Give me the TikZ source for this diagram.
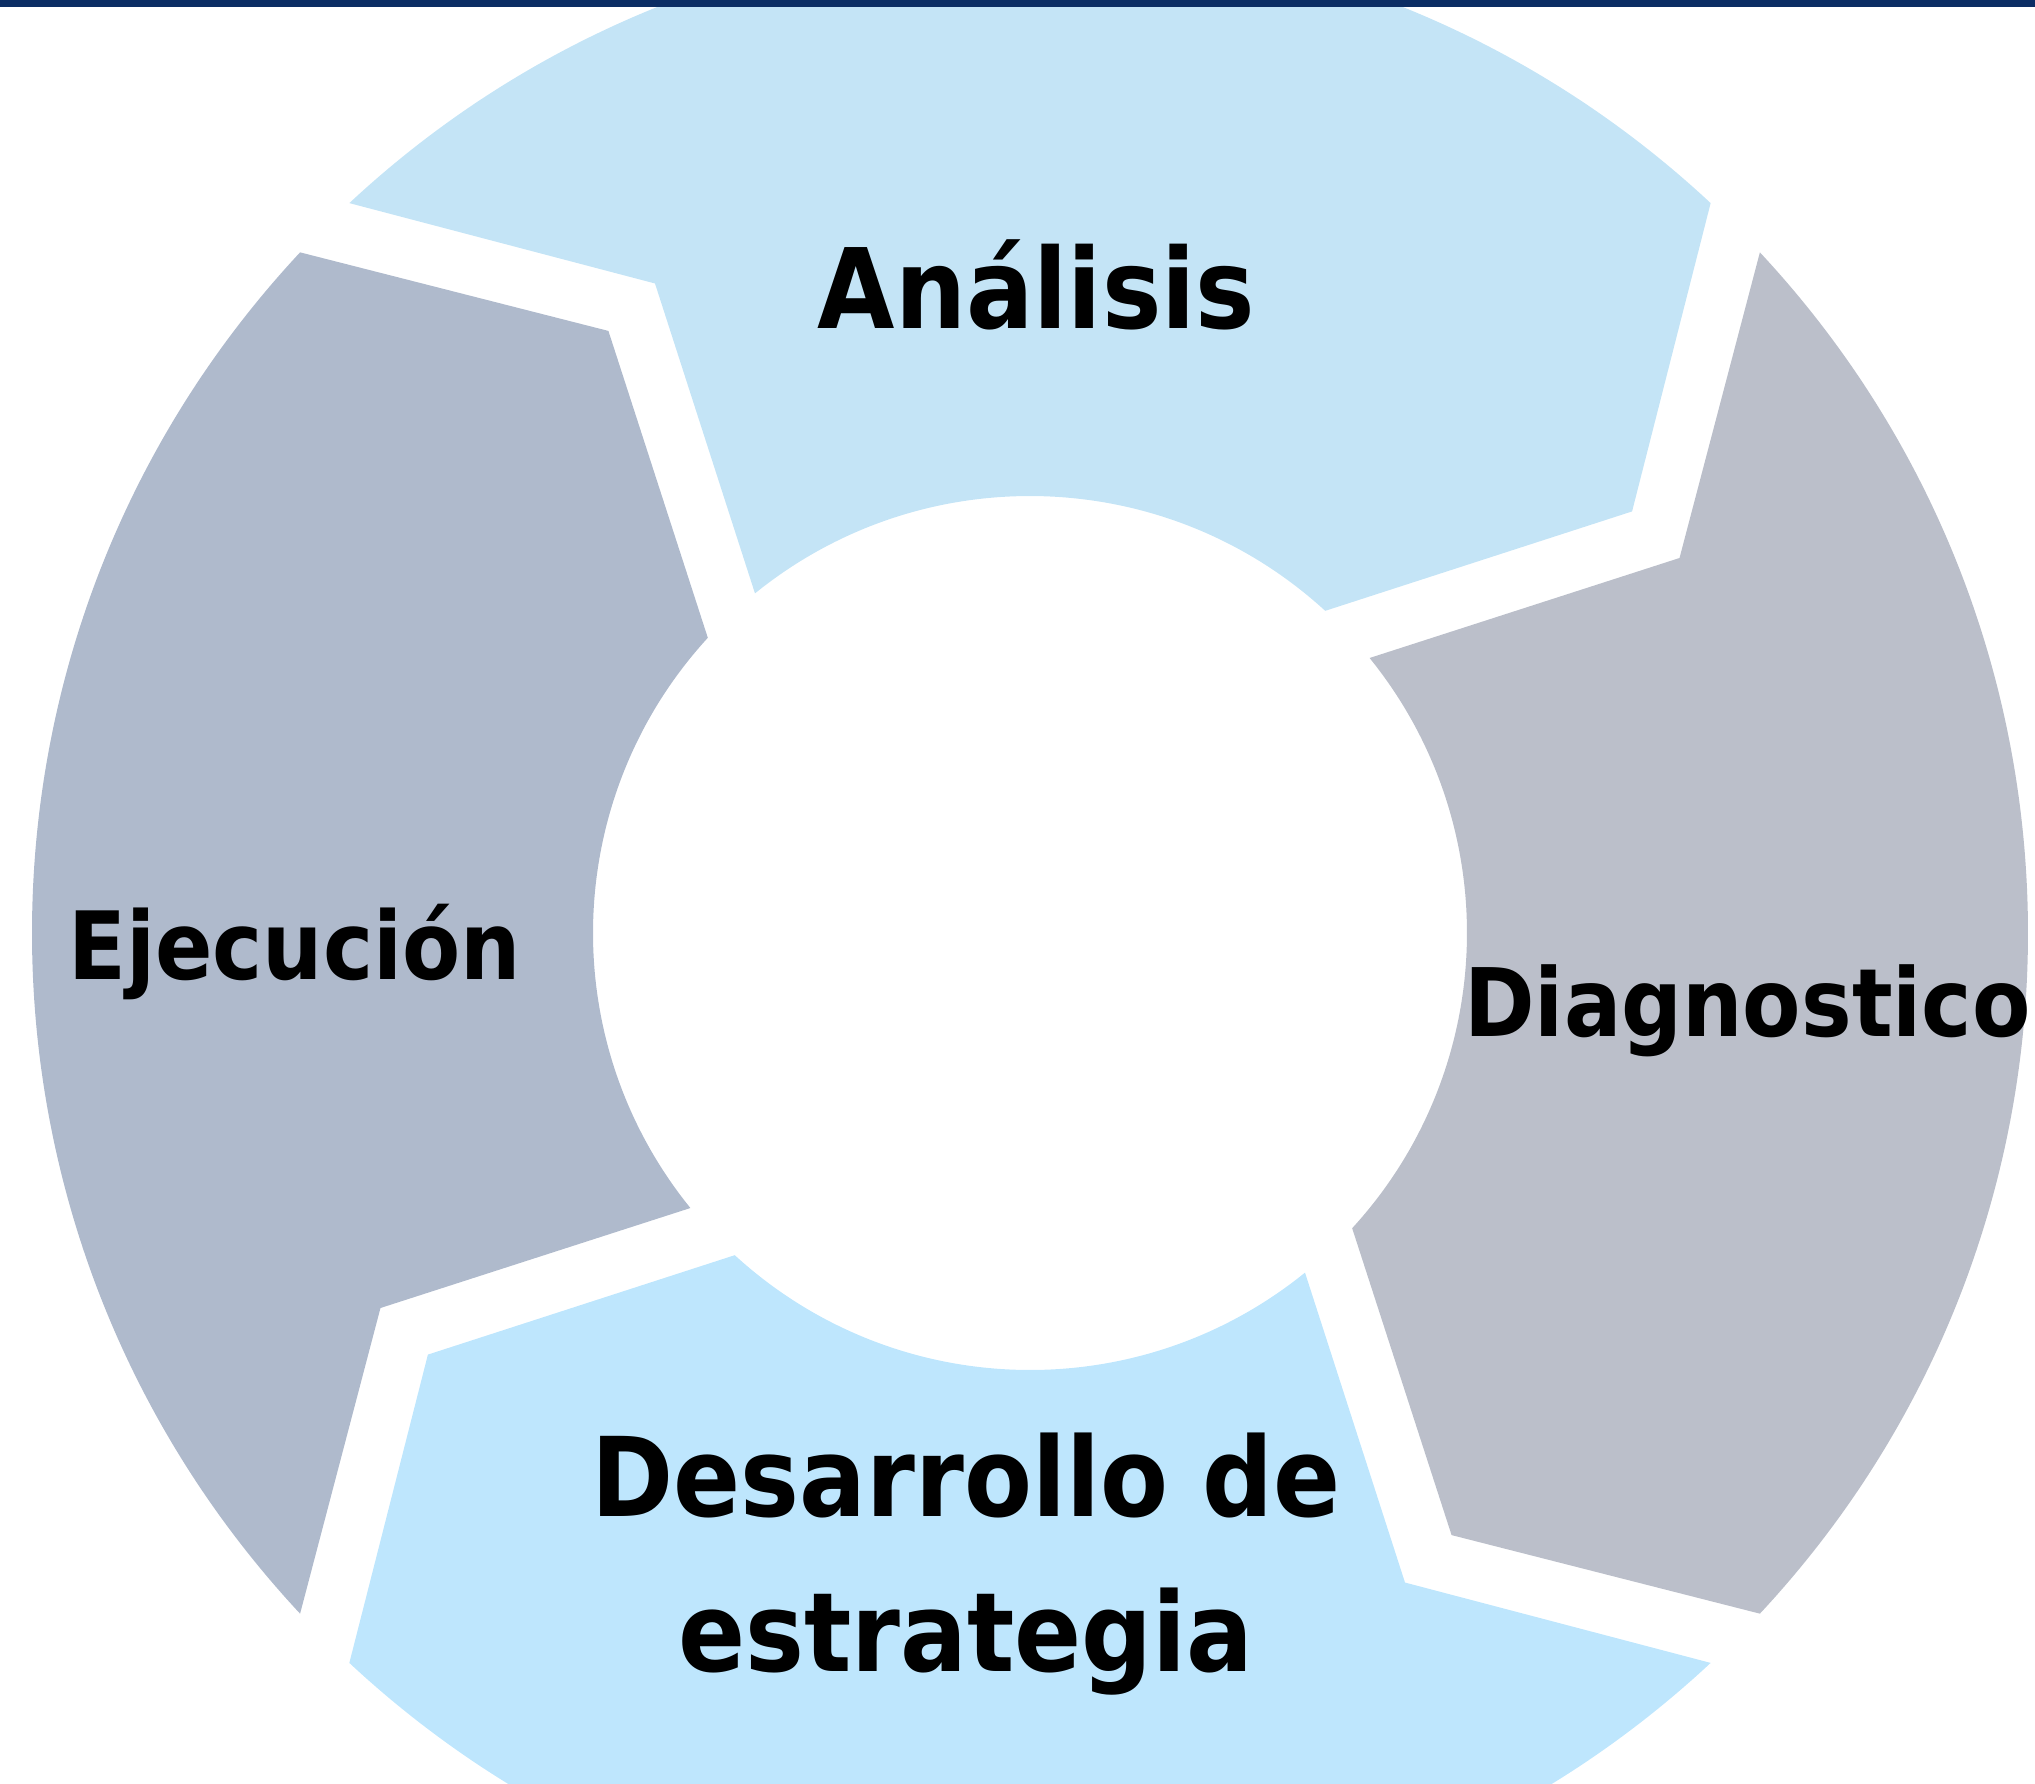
\documentclass[tikz,border=0pt]{standalone}
\usepackage{fontspec}
\setmainfont{DejaVu Sans Condensed}
\usetikzlibrary{positioning}

\definecolor{barblue}{HTML}{0B2D64}
\definecolor{topblue}{HTML}{C4E4F6}
\definecolor{botblue}{HTML}{BEE6FD}
\definecolor{leftgray}{HTML}{AFBACC}
\definecolor{rightgray}{HTML}{BBBFCA}

\newcommand{\Rout}{9.98}
\newcommand{\Rin}{4.37}

\begin{document}
\begin{tikzpicture}[
    lbl/.style={font=\bfseries\fontsize{#1pt}{#1pt}\selectfont, anchor=base, inner sep=0pt}
  ]
    \useasboundingbox (-10.30,-8.50) rectangle (10.05,9.33);
    \clip (-10.30,-8.50) rectangle (10.05,9.33);

    % Arrow segments of the ring
    \foreach \a/\col in {0/topblue, -90/rightgray, -180/botblue, 90/leftgray} {
        \fill[\col] (\a+133:\Rout) arc[start angle=\a+133, end angle=\a+47, radius=\Rout]
            -- (\a+35:7.35) -- (\a+47.5:\Rin)
            arc[start angle=\a+47.5, end angle=\a+129, radius=\Rin]
            -- (\a+120:7.50) -- cycle;
    }

    % Top bar
    \fill[barblue] (-10.30,9.26) rectangle (10.05,9.33);

    % Labels
    \node[lbl=31.6] (analisis) at (0.065,6.05) {Análisis};
    \node[lbl=26.9] (diagnostico) at (7.175,-1.03) {Diagnostico};
    \node[lbl=31.3] (desarrollo) at (-0.64,-5.83) {Desarrollo de};
    \node[lbl=31.3] (estrategia) at ([yshift=-1.55cm]desarrollo.base) {estrategia};
    \node[lbl=26.8] (ejecucion) at (-7.355,-0.46) {Ejecución};
\end{tikzpicture}
\end{document}
